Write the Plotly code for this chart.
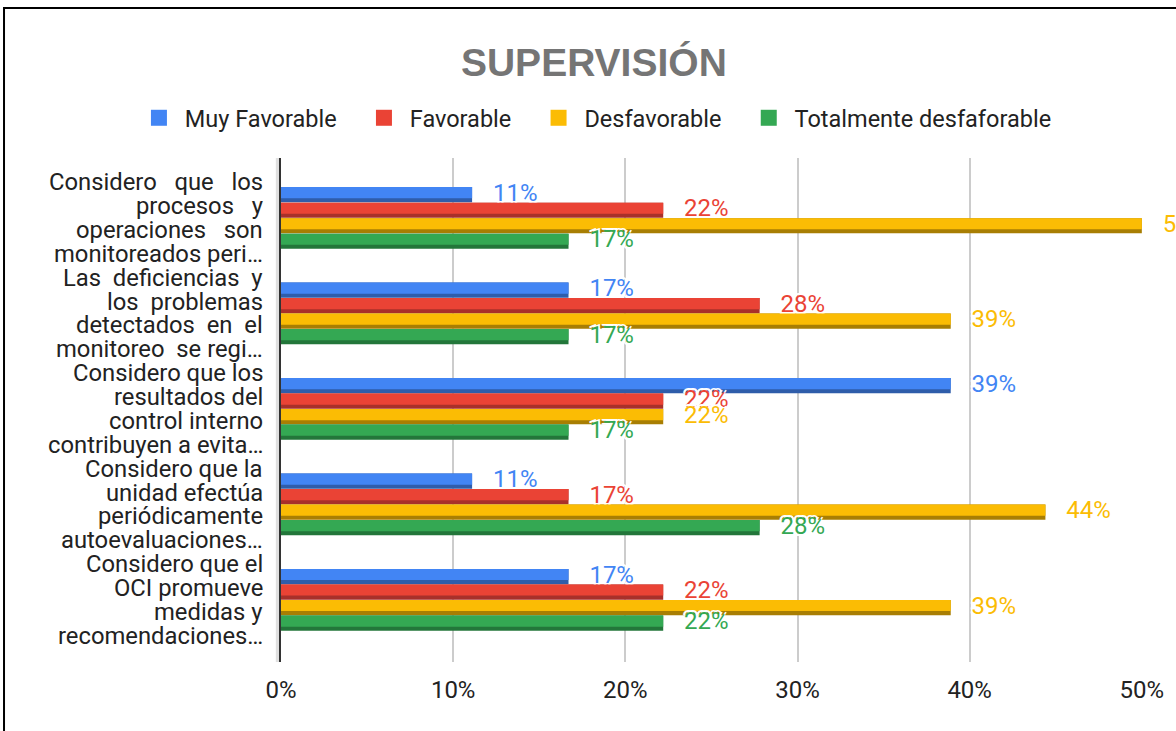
import plotly.graph_objects as go

NB = "\u00a0"

# -------- Data --------
categories = [
    "Considero que los procesos y operaciones son monitoreados peri…",
    "Las deficiencias y los problemas detectados en el monitoreo se regi…",
    "Considero que los resultados del control interno contribuyen a evita…",
    "Considero que la unidad efectúa periódicamente autoevaluaciones…",
    "Considero que el OCI promueve medidas y recomendaciones…",
]
label_lines = [
    ["Considero" + NB * 3 + "que" + NB * 3 + "los", "procesos" + NB * 3 + "y",
     "operaciones" + NB * 3 + "son", "monitoreados peri…"],
    ["Las" + NB * 2 + "deficiencias" + NB * 2 + "y", "los" + NB * 2 + "problemas",
     "detectados" + NB * 2 + "en" + NB * 2 + "el", "monitoreo" + NB * 2 + "se regi…"],
    ["Considero que los", "resultados del", "control interno", "contribuyen a evita…"],
    ["Considero que la", "unidad efectúa", "periódicamente", "autoevaluaciones…"],
    ["Considero que el", "OCI promueve", "medidas y", "recomendaciones…"],
]
series_names = ["Muy Favorable", "Favorable", "Desfavorable", "Totalmente desfaforable"]
muy_favorable = [0.111, 0.167, 0.389, 0.111, 0.167]
favorable = [0.222, 0.278, 0.222, 0.167, 0.222]
desfavorable = [0.500, 0.389, 0.222, 0.444, 0.389]
totalmente = [0.167, 0.167, 0.167, 0.278, 0.222]
series_values = [muy_favorable, favorable, desfavorable, totalmente]

colors = ["#4285F4", "#EA4335", "#FBBC04", "#34A853"]
dark_colors = ["#2F5DAA", "#A8302A", "#A87E03", "#23763A"]

FONT = "Roboto"
slot = 0.1625
start = -0.325
halo = "2px 2px 0 white, -2px -2px 0 white, 2px -2px 0 white, -2px 2px 0 white"

fig = go.Figure()

# dark "3D" edge under each bar
for k, vals in enumerate(series_values):
    fig.add_trace(go.Bar(
        y=categories, x=vals, orientation="h",
        width=slot * 0.98, offset=start + k * slot,
        marker=dict(color=dark_colors[k], line_width=0),
        showlegend=False, hoverinfo="skip",
    ))

# main bars with labels
for k, vals in enumerate(series_values):
    fig.add_trace(go.Bar(
        y=categories, x=vals, orientation="h", name=series_names[k],
        width=slot * 0.72, offset=start + k * slot,
        marker=dict(color=colors[k], line_width=0),
        texttemplate=NB * 3 + "%{x:.0%}", textposition="outside",
        constraintext="none", cliponaxis=False, showlegend=False,
        textfont=dict(family=FONT, size=24, color=colors[k], shadow=halo),
    ))

# legend proxies (bigger square swatches)
for k, name in enumerate(series_names):
    trail = NB * 3 + "\u2009" if k < len(series_names) - 1 else ""
    fig.add_trace(go.Scatter(
        x=[None], y=[None], mode="markers", name=NB + name + trail,
        marker=dict(symbol="square", size=17, color=colors[k],
                    line=dict(color="white", width=0)),
    ))

# multi-line category labels
annotations = []
for cat, lines in zip(categories, label_lines):
    for i, line in enumerate(lines):
        annotations.append(dict(
            x=0, xref="paper", y=cat, yref="y", text=line, showarrow=False,
            xanchor="right", yanchor="middle", xshift=-16, yshift=(1.5 - i) * 23.8,
            font=dict(family=FONT, size=23.8, color="#222222"),
        ))

# chart border and 3D side strip
shapes = [
    dict(type="rect", xref="paper", yref="paper", x0=-0.006, x1=0, y0=0, y1=1,
         fillcolor="#E0E0E0", line_width=0, layer="below"),
    dict(type="rect", xref="paper", yref="paper", x0=-0.3217, x1=1.2, y0=-0.3, y1=1.2976,
         line=dict(color="black", width=2), fillcolor="rgba(0,0,0,0)"),
]

fig.update_layout(
    width=1176, height=731,
    margin=dict(l=281, r=34, t=158, b=69),
    barmode="overlay",
    paper_bgcolor="white", plot_bgcolor="white",
    font=dict(family=FONT, size=22, color="#222222"),
    title=dict(text="<b>SUPERVISIÓN</b>", x=0.505, xref="container", xanchor="center",
               y=1 - 62 / 731, yref="container", yanchor="middle",
               font=dict(family="Liberation Sans, Arial", size=39, color="#757575")),
    legend=dict(orientation="h", x=-0.165, xref="paper", xanchor="left",
                y=(662 - 118) / 504, yref="paper", yanchor="middle",
                font=dict(family=FONT, size=23.5, color="#222222"), traceorder="normal"),
    xaxis=dict(range=[0, 0.5001], dtick=0.1, tickformat=".0%", showgrid=True,
               gridcolor="#CCCCCC", gridwidth=1.5, zeroline=False,
               ticks="outside", ticklen=6, tickcolor="white",
               tickfont=dict(family=FONT, size=24, color="#222222")),
    yaxis=dict(range=[4.65, -0.63], showticklabels=False, showgrid=False, zeroline=False,
               showline=True, linecolor="#333333", linewidth=2),
    annotations=annotations,
    shapes=shapes,
)

fig.write_html("out.html", config={"displayModeBar": False},
               post_script="document.body.style.margin='0';")
